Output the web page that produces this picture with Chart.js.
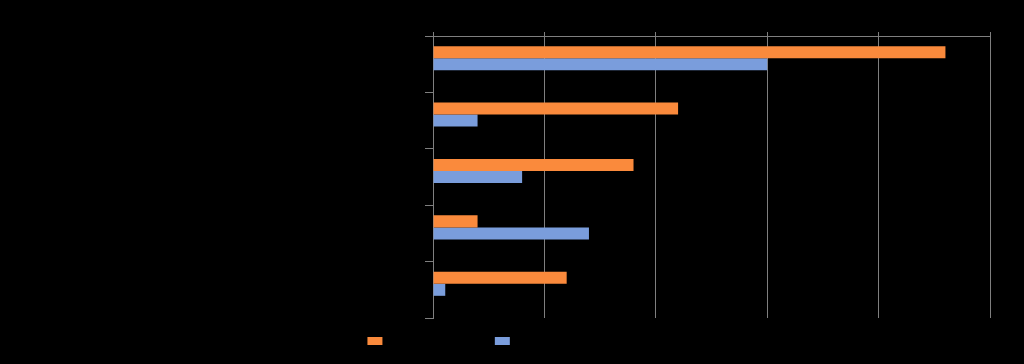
<!DOCTYPE html>
<html>
<head>
<meta charset="utf-8">
<script src="https://cdn.jsdelivr.net/npm/chart.js@4/dist/chart.umd.min.js"></script>
<style>
  html, body { margin: 0; padding: 0; background: #000; }
  #grafico { display: block; }
</style>
</head>
<body>
<canvas id="grafico" width="1024" height="364"></canvas>
<script>
// categorias (texto preto sobre preto no original)
const categorias = ['Categoria 1', 'Categoria 2', 'Categoria 3', 'Categoria 4', 'Categoria 5'];
const valoresLaranja = [46, 22, 18, 4, 12];
const valoresAzul = [30, 4, 8, 14, 1.1];
const valoresVazios = [null, null, null, null, null]; // terceira série sem valores
const nomesSeries = ['Share of group 1', 'Share of group 2, %', ''];
const ticksX = [0, 10, 20, 30, 40, 50];

const corGrade = '#7f7f7f';
const corTexto = '#000000';

const ctx = document.getElementById('grafico').getContext('2d');

const grafico = new Chart(ctx, {
  type: 'bar',
  data: {
    labels: categorias,
    datasets: [
      { label: nomesSeries[0], data: valoresLaranja, backgroundColor: '#fa8a3c' },
      { label: nomesSeries[1], data: valoresAzul, backgroundColor: '#7a9ddc' },
      { label: nomesSeries[2], data: valoresVazios, backgroundColor: '#000000' }
    ]
  },
  options: {
    indexAxis: 'y',
    responsive: false,
    animation: false,
    categoryPercentage: 0.64,
    barPercentage: 1,
    layout: { padding: { left: 0, right: 34, top: 0, bottom: 7 } },
    plugins: {
      tooltip: { enabled: false },
      legend: {
        position: 'bottom',
        labels: {
          boxWidth: 15,
          boxHeight: 8,
          padding: 17,
          color: corTexto,
          font: { family: 'Liberation Sans', size: 12 },
          filter: function(item) { return item.datasetIndex < 2; }
        }
      }
    },
    scales: {
      x: {
        position: 'top',
        min: ticksX[0],
        max: ticksX[ticksX.length - 1],
        afterBuildTicks: function(scale) {
          scale.ticks = ticksX.map(function(v) { return { value: v }; });
        },
        afterFit: function(scale) { scale.height = 36; },
        grid: { color: corGrade, tickLength: 4, lineWidth: 1 },
        border: { display: true, color: corGrade },
        ticks: { color: corTexto, font: { family: 'Liberation Sans', size: 12 } }
      },
      y: {
        afterFit: function(scale) { scale.width = 433; },
        grid: { drawOnChartArea: false, color: corGrade, tickLength: 8, offset: true },
        border: { display: true, color: corGrade },
        ticks: { color: corTexto, font: { family: 'Liberation Sans', size: 12 } }
      }
    }
  }
});
</script>
</body>
</html>
